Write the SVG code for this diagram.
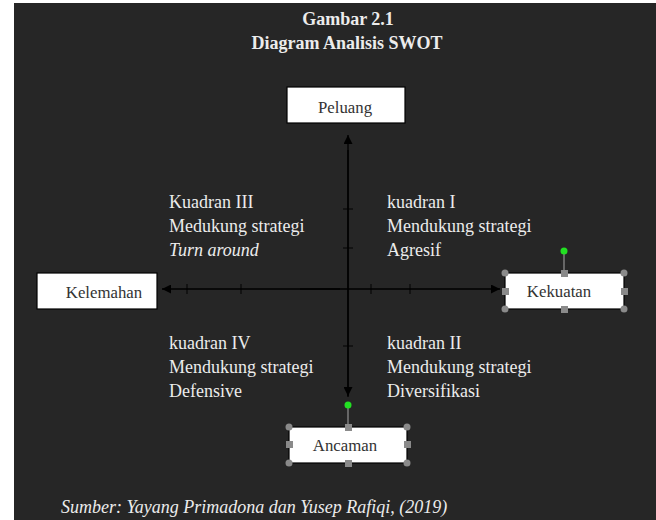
<svg xmlns="http://www.w3.org/2000/svg" width="656" height="520" viewBox="0 0 656 520">
<defs>
<style>
.t{font-family:'Liberation Serif',serif;fill:#ececec;font-size:18px}
.title{font-weight:bold;font-size:18px;text-anchor:middle}
.box{fill:#fff;stroke:#000;stroke-width:1.2}
.bt{font-family:'Liberation Serif',serif;fill:#333;font-size:16.8px;text-anchor:middle}
.ax{stroke:#000;stroke-width:1.3;fill:none}
.tk{stroke:#000;stroke-width:1}
.hc{fill:#8a8a8a}
.hs{fill:#8a8a8a}
.rot{stroke:#8a8a8a;stroke-width:1.3}
.g{fill:#22e022}
</style>
<marker id="ah" viewBox="0 0 10 10" refX="10" refY="5" markerWidth="9" markerHeight="9" markerUnits="userSpaceOnUse" orient="auto">
<path d="M0,0 L10,5 L0,10 z" fill="#000"/>
</marker>
</defs>
<rect x="0" y="0" width="656" height="520" fill="#fff"/>
<rect x="14" y="3" width="642" height="517" fill="#262626"/>

<g id="title">
<text class="t title" x="348" y="25">Gambar 2.1</text>
<text class="t title" x="347" y="49">Diagram Analisis SWOT</text>
</g>

<g id="connectors">
<line class="ax" x1="348" y1="397" x2="348" y2="135" marker-end="url(#ah)"/>
<line class="ax" x1="348" y1="150" x2="348" y2="396" marker-end="url(#ah)"/>
<line class="ax" x1="340" y1="289" x2="162" y2="289" marker-end="url(#ah)"/>
<line class="ax" x1="300" y1="289" x2="500" y2="289" marker-end="url(#ah)"/>
<line class="tk" x1="343" y1="209" x2="353" y2="209"/>
<line class="tk" x1="343" y1="248" x2="353" y2="248"/>
<line class="tk" x1="343" y1="346" x2="353" y2="346"/>
<line class="tk" x1="187" y1="284" x2="187" y2="294"/>
<line class="tk" x1="241" y1="284" x2="241" y2="294"/>
<line class="tk" x1="371" y1="284" x2="371" y2="294"/>
<line class="tk" x1="410" y1="284" x2="410" y2="294"/>
</g>

<g id="peluang">
<rect class="box" x="287" y="87" width="118" height="36"/>
<text class="bt" x="345" y="113">Peluang</text>
</g>

<g id="kelemahan">
<rect class="box" x="37" y="273" width="120" height="36"/>
<text class="bt" x="104" y="298">Kelemahan</text>
</g>

<g id="kekuatan">
<rect class="box" x="505" y="273" width="119" height="36"/>
<text class="bt" x="559" y="297">Kekuatan</text>
<line class="rot" x1="564" y1="251" x2="564" y2="273"/>
<circle class="g" cx="564" cy="251" r="3.5"/>
<circle class="hc" cx="505" cy="273" r="3.5"/>
<circle class="hc" cx="624" cy="273" r="3.5"/>
<circle class="hc" cx="505" cy="309" r="3.5"/>
<circle class="hc" cx="624" cy="309" r="3.5"/>
<rect class="hs" x="561" y="270" width="7" height="7"/>
<rect class="hs" x="561" y="306" width="7" height="7"/>
<rect class="hs" x="502" y="288" width="7" height="7"/>
<rect class="hs" x="621" y="288" width="7" height="7"/>
</g>

<g id="ancaman">
<rect class="box" x="289" y="427" width="118" height="36"/>
<text class="bt" x="345" y="451">Ancaman</text>
<line class="rot" x1="348" y1="405" x2="348" y2="427"/>
<circle class="g" cx="348" cy="405" r="3.5"/>
<circle class="hc" cx="289" cy="427" r="3.5"/>
<circle class="hc" cx="407" cy="427" r="3.5"/>
<circle class="hc" cx="289" cy="463" r="3.5"/>
<circle class="hc" cx="407" cy="463" r="3.5"/>
<rect class="hs" x="345" y="424" width="7" height="7"/>
<rect class="hs" x="345" y="460" width="7" height="7"/>
<rect class="hs" x="286" y="441" width="7" height="7"/>
<rect class="hs" x="404" y="441" width="7" height="7"/>
</g>

<g id="kuadran3">
<text class="t" x="169" y="208">Kuadran III</text>
<text class="t" x="169" y="232">Medukung strategi</text>
<text class="t" x="169" y="256" font-style="italic">Turn around</text>
</g>
<g id="kuadran1">
<text class="t" x="387" y="208">kuadran I</text>
<text class="t" x="387" y="232">Mendukung strategi</text>
<text class="t" x="387" y="256">Agresif</text>
</g>
<g id="kuadran4">
<text class="t" x="169" y="349">kuadran IV</text>
<text class="t" x="169" y="373">Mendukung strategi</text>
<text class="t" x="169" y="397">Defensive</text>
</g>
<g id="kuadran2">
<text class="t" x="387" y="349">kuadran II</text>
<text class="t" x="387" y="373">Mendukung strategi</text>
<text class="t" x="387" y="397">Diversifikasi</text>
</g>

<g id="sumber">
<text class="t" x="61" y="513" font-style="italic">Sumber: Yayang Primadona dan Yusep Rafiqi, (2019)</text>
</g>
</svg>
